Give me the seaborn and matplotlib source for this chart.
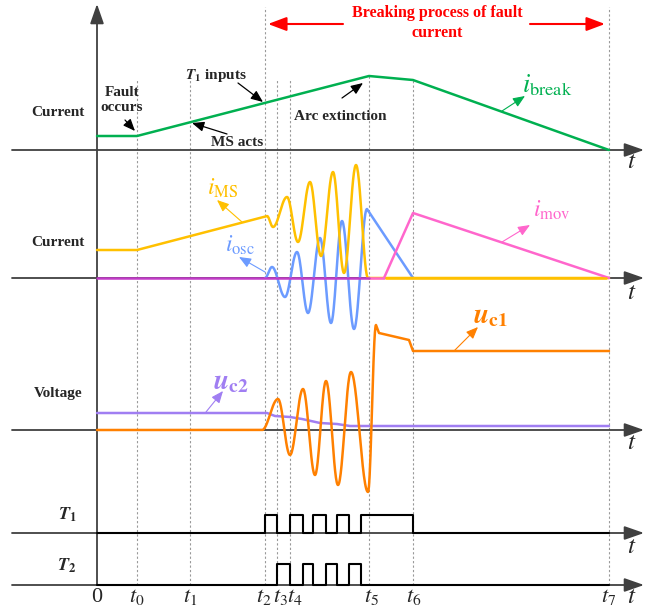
import numpy as np
import pandas as pd
import seaborn as sns
import matplotlib.pyplot as plt

sns.set_style('white')
plt.rcParams['font.family'] = ['Liberation Serif', 'DejaVu Serif']
plt.rcParams['mathtext.fontset'] = 'stix'

# switching instants (time units)
t_names = ['0', '$t_0$', '$t_1$', '$t_2$', '$t_3$', '$t_4$', '$t_5$', '$t_6$', '$t_7$']
t_vals = [0.0, 4.0, 9.3, 16.8, 18.0, 19.3, 27.2, 31.6, 51.2]
t0, t1, t2, t3, t4, t5, t6, t7 = t_vals[1:]

# current through breaker
brk_t = [0, t0, t5, t6, t7]
brk_v = [1.4, 1.4, 7.4, 7.0, 0.0]

# main switch current: ramp, then growing oscillation (extrema)
ms_ramp_t = [0, t0, 17.0]
ms_ramp_v = [2.8, 2.8, 6.2]
ms_osc_t = [17.0, 17.6, 19.0, 20.1, 21.3, 22.4, 23.6, 24.7, 25.9, 27.1]
ms_osc_v = [6.2, 5.1, 8.1, 3.6, 9.6, 2.2, 10.6, 0.5, 11.3, 0.0]

# oscillation current (extrema), then linear decay
osc_t = [t2, 17.5, 18.8, 20.0, 21.1, 22.3, 23.4, 24.5, 25.7, 27.0]
osc_v = [0.0, 1.1, -1.9, 2.6, -3.5, 4.0, -4.5, 5.7, -5.1, 6.9]
osc_tail_t = [27.0, t6]
osc_tail_v = [6.9, 0.0]

# MOV current
mov_t = [t5, 28.7, t6, t7]
mov_v = [0.0, 0.0, 6.5, 0.0]

# capacitor voltages
uc1_osc_t = [16.5, 18.1, 19.3, 20.6, 21.8, 22.9, 24.1, 25.4, 27.1, 27.9]
uc1_osc_v = [0.0, 3.1, -2.5, 4.1, -4.5, 4.9, -5.5, 5.8, -6.2, 10.5]
uc1_tail_t = [27.9, 28.2, 31.2, t6, t7]
uc1_tail_v = [10.5, 9.7, 9.0, 7.9, 7.9]
uc2_t = [0, 17.0, 17.8, 19.3, 20.5, 22.3, 24.0, 25.3, t7]
uc2_v = [1.7, 1.7, 1.4, 1.3, 1.1, 0.7, 0.6, 0.4, 0.4]

# gate signals: switching instants (start low)
T1_edges = [t2, t3, t4, 20.6, 21.6, 22.9, 24.0, 25.2, 26.4, t6]
T2_edges = [t3, t4, 20.6, 21.6, 22.9, 24.0, 25.2, 26.4]

base = {'brk': 45.9, 'cur': 33.1, 'volt': 17.9, 'T1': 7.6, 'T2': 2.4}
c_brk, c_ms, c_osc, c_mov = '#00B050', '#FFC000', '#6C9BFF', '#FF66CC'
c_uc1, c_uc2, c_axis = '#FF8000', '#A07EF2', '#404040'


def ease(ts, vs, n=30):
    xs, ys = [ts[0]], [vs[0]]
    for a, b, va, vb in zip(ts[:-1], ts[1:], vs[:-1], vs[1:]):
        s = np.linspace(0, 1, n)[1:]
        xs += list(a + (b - a) * s)
        ys += list(va + (vb - va) * (1 - np.cos(np.pi * s)) / 2)
    return xs, ys


def pulses(edges, level, end):
    xs, ys, lv = [0], [0], 0
    for e in edges:
        xs += [e, e]
        ys += [lv, level - lv]
        lv = level - lv
    xs.append(end)
    ys.append(lv)
    return xs, ys


def draw(ax, xs, ys, off, color, lw=1.8):
    d = pd.DataFrame({'t': xs, 'v': np.array(ys) + off})
    sns.lineplot(data=d, x='t', y='v', estimator=None, sort=False,
                 color=color, lw=lw, ax=ax)


fig = plt.figure(figsize=(6.47, 6.09), dpi=100)
ax = fig.add_axes([0, 0, 1, 1])

# dotted time markers
tops = [53.0, 52.9, 60.2, 52.9, 52.9, 53.3, 52.9, 60.2]
for tv, top in zip(t_vals[1:], tops):
    ax.plot([tv, tv], [base['T2'], top], color='#999999', lw=0.8,
            ls=(0, (2, 2)), zorder=0.5)

# axes with arrow heads
arr = dict(arrowstyle='-|>,head_length=0.8,head_width=0.28', color=c_axis,
           lw=1.3, mutation_scale=15, shrinkA=0, shrinkB=0)
for b in base.values():
    ax.annotate('', xy=(54.7, b), xytext=(-8.5, b), arrowprops=arr, zorder=1)
ax.annotate('', xy=(0, 60.5), xytext=(0, base['T2']), arrowprops=arr, zorder=1)

# waveforms
draw(ax, brk_t, brk_v, base['brk'], c_brk)
x, y = ease(osc_t, osc_v)
draw(ax, x + osc_tail_t, y + osc_tail_v, base['cur'], c_osc)
x, y = ease(ms_osc_t, ms_osc_v)
draw(ax, ms_ramp_t + x + [t7], ms_ramp_v + y + [0.0], base['cur'], c_ms)
draw(ax, mov_t[:2], mov_v[:2], base['cur'], c_mov)
draw(ax, mov_t[1:], mov_v[1:], base['cur'], c_mov)
draw(ax, [0, t5], [0, 0], base['cur'], '#C23BC8')
draw(ax, uc2_t, uc2_v, base['volt'], c_uc2)
x, y = ease(uc1_osc_t, uc1_osc_v)
draw(ax, [0] + x + uc1_tail_t, [0] + y + uc1_tail_v, base['volt'], c_uc1)
x, y = pulses(T1_edges, 1.8, t7)
draw(ax, x, y, base['T1'], 'black', lw=1.5)
x, y = pulses(T2_edges, 2.1, t7)
draw(ax, x, y, base['T2'], 'black', lw=1.5)
# keep yellow zero line visible after the MOV current rises
draw(ax, [28.9, t7 - 0.3], [0, 0], base['cur'], c_ms)
ax.set_xlim(-9.7, 55.0)
ax.set_ylim(0, 60.9)
ax.axis('off')

# panel labels
bold = dict(fontsize=11, fontweight='bold', ha='center', va='center')
ax.text(-3.9, 49.6, 'Current', **bold)
ax.text(-3.9, 36.7, 'Current', **bold)
ax.text(-3.9, 21.6, 'Voltage', **bold)
ax.text(-3.0, 9.4, r'$\mathbfit{T}_{\mathbf{1}}$', fontsize=13, ha='center', va='center')
ax.text(-3.0, 4.3, r'$\mathbfit{T}_{\mathbf{2}}$', fontsize=13, ha='center', va='center')

# event annotations
ax.text(2.5, 50.9, 'Fault\noccurs', linespacing=1.15, **bold)
ax.text(11.9, 53.4, r'$\mathbfit{T}_{\mathbf{1}}$ inputs', **bold)
ax.text(14.0, 46.7, 'MS acts', **bold)
ax.text(24.3, 49.2, 'Arc extinction', **bold)
blk = dict(arrowstyle='-|>,head_length=0.6,head_width=0.25', color='black',
           lw=0.9, mutation_scale=12, shrinkA=0, shrinkB=0)
for tail, head in [((2.8, 48.9), (3.8, 47.8)), ((13.0, 47.5), (9.5, 48.6)),
                   ((14.1, 52.6), (16.6, 50.7)), ((24.5, 51.1), (26.6, 52.6))]:
    ax.annotate('', xy=head, xytext=tail, arrowprops=blk)

# breaking process span
ax.text(34.0, 58.6, 'Breaking process of fault\ncurrent', color='red',
        fontsize=11.5, fontweight='bold', ha='center', va='center', linespacing=1.4)
red = dict(arrowstyle='-|>,head_length=0.8,head_width=0.3', color='red',
           lw=1.5, mutation_scale=14, shrinkA=0, shrinkB=0)
ax.annotate('', xy=(17.1, 58.5), xytext=(24.6, 58.5), arrowprops=red)
ax.annotate('', xy=(50.8, 58.5), xytext=(43.3, 58.5), arrowprops=red)

# signal labels
labels = [(42.5, 52.4, r'$i_{\mathrm{break}}$', c_brk, 19, (40.5, 49.8), (42.8, 51.3)),
          (11.0, 42.1, r'$i_{\mathrm{MS}}$', c_ms, 17, (14.5, 38.7), (12.0, 40.9)),
          (12.8, 36.4, r'$i_{\mathrm{osc}}$', c_osc, 17, (16.8, 33.7), (14.2, 35.2)),
          (43.6, 39.9, r'$i_{\mathrm{mov}}$', c_mov, 17, (40.5, 36.7), (43.3, 38.4)),
          (37.6, 29.2, r'$\mathbfit{u}_{\mathbf{c1}}$', c_uc1, 20, (35.7, 25.8), (38.1, 28.2)),
          (11.6, 22.6, r'$\mathbfit{u}_{\mathbf{c2}}$', c_uc2, 20, (10.9, 19.7), (12.6, 21.8))]
for lx, ly, s, c, fs, tail, head in labels:
    ax.text(lx, ly, s, color=c, fontsize=fs, ha='left', va='center')
    ax.annotate('', xy=head, xytext=tail,
                arrowprops=dict(arrowstyle='-|>,head_length=0.6,head_width=0.25',
                                color=c, lw=0.8, mutation_scale=12,
                                shrinkA=0, shrinkB=0))

# time tick labels
shifts = [0, 0, 0, -0.1, 0.3, 0.5, 0.2, 0.1, 0]
for name, tv, sh in zip(t_names, t_vals, shifts):
    ax.text(tv + sh, 1.2, name, fontsize=16, ha='center', va='center')
for b, ty in zip(base.values(), [44.7, 31.6, 16.6, 6.2, 1.2]):
    ax.text(53.5, ty, '$t$', fontsize=18, ha='center', va='center')

plt.savefig('out.png', dpi=100)
